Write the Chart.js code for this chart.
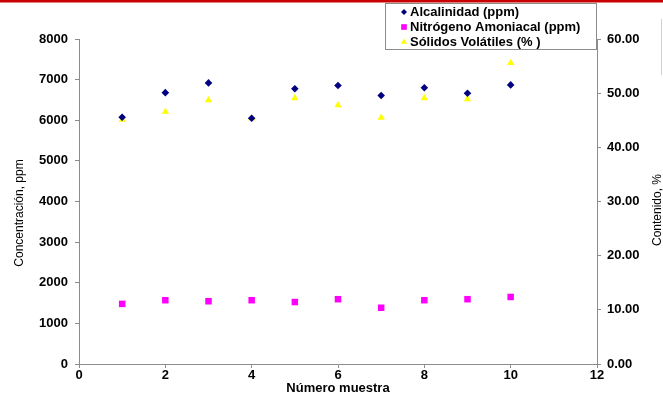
<!DOCTYPE html>
<html>
<head>
<meta charset="utf-8">
<script src="https://cdn.jsdelivr.net/npm/chart.js@4.4.0/dist/chart.umd.min.js"></script>
<style>
  html, body { margin: 0; padding: 0; background: #ffffff; }
  #chart-container { width: 663px; height: 397px; }
</style>
</head>
<body>
<div id="chart-container"><canvas id="muestras-chart" width="663" height="397"></canvas></div>
<script>
// Datos
const muestras = [1, 2, 3, 4, 5, 6, 7, 8, 9, 10];
const alcalinidad = [6075, 6680, 6920, 6050, 6775, 6855, 6610, 6800, 6665, 6870];
const nitrogeno = [1480, 1570, 1545, 1570, 1525, 1595, 1385, 1570, 1595, 1650];
const solidos = [45.1, 46.6, 48.7, 45.4, 49.1, 47.8, 45.5, 49.1, 48.9, 55.6];

const etiquetas = ['Alcalinidad (ppm)', 'Nitrógeno Amoniacal (ppm)', 'Sólidos Volátiles (% )'];
const tituloX = 'Número muestra';
const tituloY = 'Concentración, ppm';
const tituloY2 = 'Contenido, %';

const toPoints = (vals) => vals.map((v, i) => ({ x: muestras[i], y: v }));

const FONT = 'Liberation Sans, Arial, sans-serif';
const AXIS_GRAY = '#8c8c8c';

// Texto vertical (de abajo hacia arriba)
const textoVertical = (ctx, texto, x, y) => {
    ctx.save();
    ctx.translate(x, y);
    ctx.rotate(-Math.PI / 2);
    ctx.fillStyle = '#000000';
    ctx.font = '12px ' + FONT;
    ctx.textAlign = 'center';
    ctx.textBaseline = 'middle';
    ctx.fillText(texto, 0, 0);
    ctx.restore();
};

// Dibujar la línea roja superior, la leyenda con borde y los títulos verticales
const extras = {
    id: 'extras',
    afterDraw(chart) {
        const ctx = chart.ctx;
        ctx.save();

        // línea roja arriba
        ctx.fillStyle = '#c80000';
        ctx.fillRect(0, 0, 663, 2.5);

        // línea gris al borde derecho
        ctx.strokeStyle = '#d0d0d0';
        ctx.lineWidth = 1;
        ctx.beginPath();
        ctx.moveTo(661.5, 19);
        ctx.lineTo(661.5, 75);
        ctx.stroke();

        // leyenda
        ctx.fillStyle = '#ffffff';
        ctx.fillRect(385.5, 3.5, 211, 46);
        ctx.strokeStyle = AXIS_GRAY;
        ctx.strokeRect(385.5, 3.5, 211, 46);

        const rows = [12, 27, 42];
        chart.data.datasets.forEach((ds, i) => {
            ctx.fillStyle = ds.backgroundColor;
            Chart.helpers.drawPoint(ctx, {
                pointStyle: ds.pointStyle,
                radius: ds.legendRadius,
                rotation: 0,
                borderWidth: 0
            }, 404, rows[i]);
            ctx.fillStyle = '#000000';
            ctx.font = 'bold 13px ' + FONT;
            ctx.textAlign = 'left';
            ctx.textBaseline = 'middle';
            ctx.fillText(ds.label, 410, rows[i] + 0.5);
        });
        ctx.restore();

        textoVertical(ctx, tituloY, 20, 213);
        textoVertical(ctx, tituloY2, 658, 210);
    }
};

const canvas = document.getElementById('muestras-chart');
const ctx = canvas.getContext('2d');

new Chart(ctx, {
    type: 'scatter',
    data: {
        datasets: [{
            label: etiquetas[0],
            data: toPoints(alcalinidad),
            yAxisID: 'y',
            pointStyle: 'rectRot',
            pointRadius: 3.8,
            legendRadius: 3,
            backgroundColor: '#000080',
            borderWidth: 0
        }, {
            label: etiquetas[1],
            data: toPoints(nitrogeno),
            yAxisID: 'y',
            pointStyle: 'rect',
            pointRadius: 4.6,
            legendRadius: 4,
            backgroundColor: '#ff00ff',
            borderWidth: 0
        }, {
            label: etiquetas[2],
            data: toPoints(solidos),
            yAxisID: 'y1',
            pointStyle: 'triangle',
            pointRadius: 4.2,
            legendRadius: 3.6,
            backgroundColor: '#ffff00',
            borderWidth: 0
        }]
    },
    options: {
        responsive: false,
        animation: false,
        events: [],
        layout: { padding: { top: 39, left: 0, right: 0, bottom: 0 } },
        plugins: {
            legend: { display: false },
            tooltip: { enabled: false }
        },
        scales: {
            x: {
                type: 'linear',
                position: 'bottom',
                min: 0,
                max: 12,
                ticks: {
                    stepSize: 2,
                    color: '#000000',
                    padding: 0,
                    font: { family: FONT, size: 13, weight: 'bold' }
                },
                grid: { drawOnChartArea: false, color: AXIS_GRAY, tickLength: 4 },
                border: { color: AXIS_GRAY, width: 1 },
                title: {
                    display: true,
                    text: tituloX,
                    color: '#000000',
                    padding: { top: 0, bottom: 1 },
                    font: { family: FONT, size: 13, weight: 'bold' }
                },
                afterFit: (scale) => { scale.height = 33; }
            },
            y: {
                type: 'linear',
                position: 'left',
                min: 0,
                max: 8000,
                ticks: {
                    stepSize: 1000,
                    color: '#000000',
                    padding: 7,
                    callback: (v) => String(v),
                    font: { family: FONT, size: 13, weight: 'bold' }
                },
                grid: { drawOnChartArea: false, color: AXIS_GRAY, tickLength: 4 },
                border: { color: AXIS_GRAY, width: 1 },
                afterFit: (scale) => { scale.width = 79; }
            },
            y1: {
                type: 'linear',
                position: 'right',
                min: 0,
                max: 60,
                ticks: {
                    stepSize: 10,
                    color: '#000000',
                    padding: 6,
                    callback: (v) => Number(v).toFixed(2),
                    font: { family: FONT, size: 13, weight: 'bold' }
                },
                grid: { drawOnChartArea: false, color: AXIS_GRAY, tickLength: 4 },
                border: { color: AXIS_GRAY, width: 1 },
                afterFit: (scale) => { scale.width = 66; }
            }
        }
    },
    plugins: [extras]
});
</script>
</body>
</html>
